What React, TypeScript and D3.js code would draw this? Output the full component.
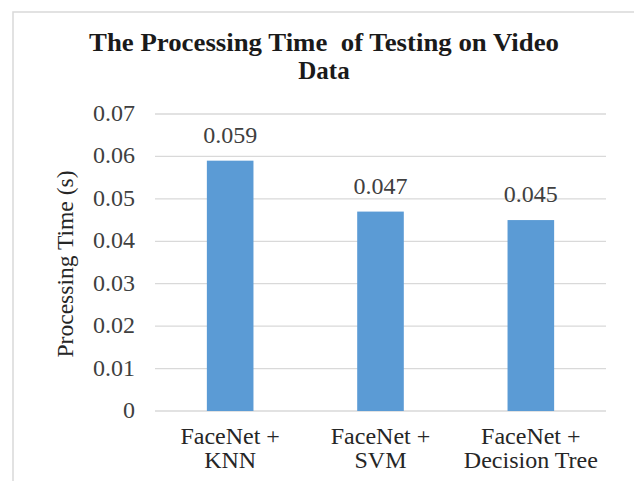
import React from "react";
import * as d3 from "d3";

const categories = [["FaceNet +", "KNN"], ["FaceNet +", "SVM"], ["FaceNet +", "Decision Tree"]];
const values = [0.059, 0.047, 0.045];
const valueLabels = ["0.059", "0.047", "0.045"];
const yTicks = [0, 0.01, 0.02, 0.03, 0.04, 0.05, 0.06, 0.07];
const yTickLabels = ["0", "0.01", "0.02", "0.03", "0.04", "0.05", "0.06", "0.07"];
const titleLines = ["The Processing Time  of Testing on Video", "Data"];
const yTitle = "Processing Time (s)";

export default function App() {
  const W = 634, H = 481;
  const left = 155, right = 606, top = 114, bottom = 411;
  const y = d3.scaleLinear().domain([0, 0.07]).range([bottom, top]);
  const x = d3.scaleBand<number>().domain(d3.range(values.length)).range([left, right]).paddingInner(0.69).paddingOuter(0.345);
  const font = "'Liberation Serif', 'Times New Roman', serif";
  return (
    <svg width={W} height={H} style={{ position: "absolute", left: 0, top: 0, background: "#fff" }} fontFamily={font}>
      <rect x={13} y={12} width={W + 10} height={H + 10} fill="#fff" stroke="#d9d9d9" strokeWidth={1.5} />
      {titleLines.map((t, i) => (
        <text key={i} x={324} y={51 + i * 28} textAnchor="middle" fontSize={25} fontWeight="bold" fill="#1a1a1a"
          xmlSpace="preserve" style={{ whiteSpace: "pre" }}
          {...(i === 0 ? { textLength: 470, lengthAdjust: "spacingAndGlyphs" } : {})}>{t}</text>
      ))}
      {yTicks.map((t, i) => (
        <g key={i}>
          <line x1={left} x2={right} y1={y(t)} y2={y(t)} stroke="#d9d9d9" strokeWidth={1.3} />
          <text x={135} y={y(t) + 7} textAnchor="end" fontSize={24} fill="#404040">{yTickLabels[i]}</text>
        </g>
      ))}
      {values.map((v, i) => (
        <g key={i}>
          <rect x={x(i)} y={y(v)} width={x.bandwidth()} height={bottom - y(v)} fill="#5b9bd5" />
          <text x={x(i)! + x.bandwidth() / 2} y={y(v) - 18} textAnchor="middle" fontSize={24} fill="#404040">{valueLabels[i]}</text>
          {categories[i].map((l, j) => (
            <text key={j} x={x(i)! + x.bandwidth() / 2} y={444 + j * 24} textAnchor="middle" fontSize={24} fill="#262626">{l}</text>
          ))}
        </g>
      ))}
      <text transform={`translate(73,${264}) rotate(-90)`} textAnchor="middle" fontSize={24} fill="#262626"
        textLength={187} lengthAdjust="spacingAndGlyphs">{yTitle}</text>
    </svg>
  );
}
